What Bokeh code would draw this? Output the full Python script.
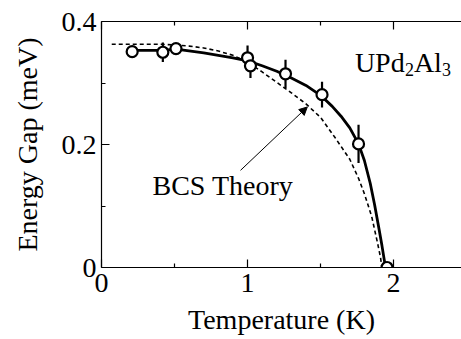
from bokeh.plotting import figure
from bokeh.models import (ColumnDataSource, LinearAxis, FixedTicker, Range1d,
                          Label, Arrow, NormalHead)
from bokeh.embed import file_html
from bokeh.resources import INLINE

# ---- data ----
T_data = [0.21, 0.42, 0.51, 1.00, 1.02, 1.26, 1.51, 1.76, 1.955]
gap_data = [0.351, 0.350, 0.356, 0.341, 0.328, 0.315, 0.281, 0.201, 0.000]
gap_err = [0.009, 0.016, 0.008, 0.020, 0.020, 0.023, 0.021, 0.031, 0.000]

fit_T = [0.21, 0.42, 0.51, 0.70, 0.90, 1.00, 1.10, 1.20, 1.30, 1.40, 1.50,
         1.58, 1.64, 1.70, 1.76, 1.80, 1.84, 1.87, 1.90, 1.92, 1.935, 1.945]
fit_gap = [0.353, 0.353, 0.355, 0.349, 0.341, 0.336, 0.328, 0.319, 0.308,
           0.296, 0.280, 0.262, 0.246, 0.227, 0.201, 0.174, 0.137, 0.102,
           0.063, 0.036, 0.014, 0.000]

bcs_T = [0.07, 0.30, 0.40, 0.50, 0.60, 0.70, 0.80, 0.90, 1.00, 1.10, 1.20,
         1.30, 1.40, 1.50, 1.60, 1.70, 1.76, 1.80, 1.85, 1.89, 1.91, 1.92]
bcs_gap = [0.363, 0.363, 0.363, 0.362, 0.360, 0.357, 0.352, 0.345, 0.334,
           0.318, 0.301, 0.284, 0.266, 0.244, 0.211, 0.176, 0.145, 0.120,
           0.083, 0.040, 0.017, 0.000]

x_ticks = [0, 1, 2]
x_minor = [0.5, 1.5]
x_tick_labels = ["0", "1", "2"]
y_ticks = [0, 0.2, 0.4]
y_minor = [0.1, 0.3]
y_tick_labels = ["0", "0.2", "0.4"]

FONT = "Liberation Serif"

p = figure(width=461, height=339, output_backend="svg", toolbar_location=None,
           x_range=Range1d(0, 2.465), y_range=Range1d(0, 0.4),
           x_axis_type=None, y_axis_type=None,
           min_border_left=101, min_border_top=21, min_border_right=0,
           min_border_bottom=72)
p.outline_line_color = None
p.xgrid.visible = False
p.ygrid.visible = False
p.background_fill_color = "white"
p.border_fill_color = "white"


def style_axis(ax):
    ax.axis_line_color = "black"
    ax.axis_line_width = 1.2
    ax.major_tick_line_color = "black"
    ax.minor_tick_line_color = "black"
    ax.major_tick_line_width = 1.2
    ax.minor_tick_line_width = 1.2
    ax.major_tick_in = 8
    ax.major_tick_out = 0
    ax.minor_tick_in = 4
    ax.minor_tick_out = 0
    ax.major_label_text_font = FONT
    ax.major_label_text_color = "black"
    ax.major_label_text_font_size = "28px"
    ax.axis_label_text_font = FONT
    ax.axis_label_text_font_style = "normal"
    ax.axis_label_text_color = "black"
    ax.axis_label_text_font_size = "28px"


xb = LinearAxis(ticker=FixedTicker(ticks=x_ticks, minor_ticks=x_minor),
                axis_label="Temperature (K)",
                major_label_overrides={t: s for t, s in zip(x_ticks, x_tick_labels)})
style_axis(xb)
xb.major_label_standoff = 6
xb.axis_label_standoff = 9
p.add_layout(xb, "below")

xt = LinearAxis(ticker=FixedTicker(ticks=x_ticks, minor_ticks=x_minor),
                major_label_overrides={t: "" for t in x_ticks})
style_axis(xt)
xt.major_label_text_font_size = "1px"
xt.major_label_standoff = 0
p.add_layout(xt, "above")

yl = LinearAxis(ticker=FixedTicker(ticks=y_ticks, minor_ticks=y_minor),
                axis_label="Energy Gap (meV)",
                major_label_overrides={t: s for t, s in zip(y_ticks, y_tick_labels)})
style_axis(yl)
yl.major_label_standoff = 5
yl.axis_label_standoff = 16
p.add_layout(yl, "left")

# BCS dashed curve
p.line(bcs_T, bcs_gap, line_color="black", line_width=1.6, line_dash="4 3")
# fit curve
p.line(fit_T, fit_gap, line_color="black", line_width=2.8)

src = ColumnDataSource(dict(
    x=T_data, y=gap_data,
    lo=[g - e for g, e in zip(gap_data, gap_err)],
    hi=[g + e for g, e in zip(gap_data, gap_err)]))
p.segment(x0="x", y0="lo", x1="x", y1="hi", source=src,
          line_color="black", line_width=2.2)
p.scatter(x="x", y="y", source=src, marker="circle", size=11,
          fill_color="white", line_color="black", line_width=2.2)

# annotations
p.add_layout(Arrow(end=NormalHead(size=8, fill_color="black", line_color="black",
                                  line_width=1),
                   x_start=0.952, y_start=0.158, x_end=1.409, y_end=0.261,
                   line_color="black", line_width=1))
p.add_layout(Label(x=0.349, y=0.133, text="BCS Theory", text_font=FONT,
                   text_font_size="28px", text_color="black",
                   text_baseline="alphabetic"))

comp_x = 1.735
comp_y = 0.333
for txt, dx, dy, fs in [("UPd", 0, 0, "28px"), ("2", 50, -7, "18px"),
                        ("Al", 59, 0, "28px"), ("3", 87, -7, "18px")]:
    p.add_layout(Label(x=comp_x, y=comp_y, x_offset=dx, y_offset=dy, text=txt,
                       text_font=FONT, text_font_size=fs, text_color="black",
                       text_baseline="alphabetic"))

open("out.html", "w").write(file_html(p, INLINE))
